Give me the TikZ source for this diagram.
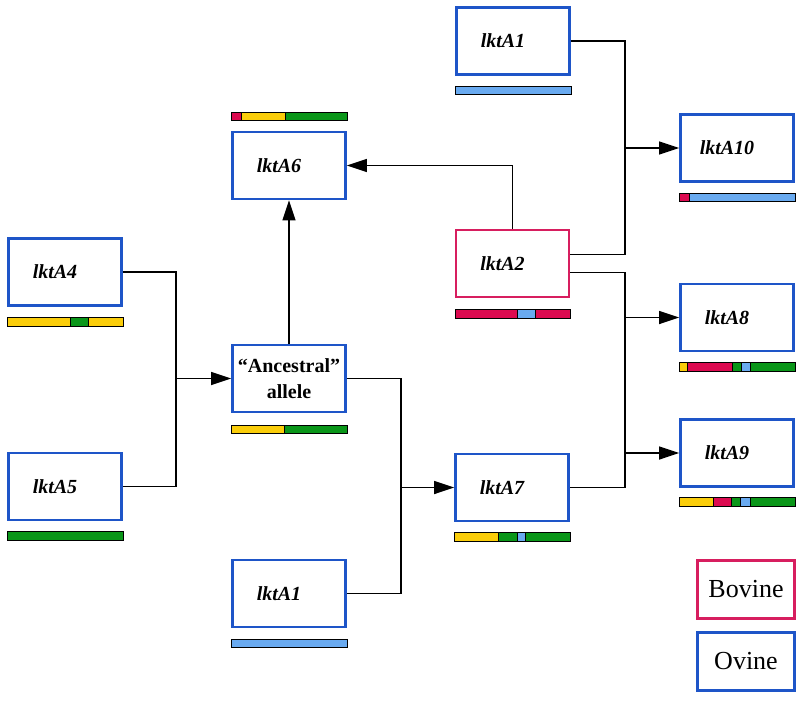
\documentclass[tikz,border=0pt]{standalone}
\usepackage{fontspec}
\setmainfont{Liberation Serif}
\usetikzlibrary{arrows.meta}
\definecolor{ovineBlue}{RGB}{30,85,200}
\definecolor{bovineRed}{RGB}{215,30,95}
\definecolor{segRed}{RGB}{220,10,80}
\definecolor{segYellow}{RGB}{250,205,10}
\definecolor{segGreen}{RGB}{10,150,25}
\definecolor{segBlue}{RGB}{105,170,240}
\tikzset{
	ovine/.style={draw=ovineBlue, line width=2.6pt, minimum width=113pt, minimum height=67pt, inner sep=0pt,
		font=\fontsize{20}{24}\selectfont\bfseries\itshape},
	bovine/.style={ovine, draw=bovineRed},
	gene/.style={execute at begin node={\hspace*{-20pt}}},
	key/.style={line width=2.6pt, minimum width=97pt, minimum height=58pt, inner sep=0pt, font=\fontsize{26}{30}\selectfont},
	link/.style={line width=1.3pt},
	arr/.style={link, -{Triangle[length=20pt, width=13pt]}},
	seg/.style={draw=black, line width=0.9pt},
}
% one allele bar: y top, y bottom, list of x1/x2/colour
\newcommand{\allele}[3]{%
	\foreach \xa/\xb/\c in {#3} \filldraw[seg, fill=\c] (\xa,#1) rectangle (\xb,#2);}

\begin{document}
\begin{tikzpicture}[x=1pt, y=-1pt]
	\useasboundingbox (0,0) rectangle (800,701);

	% boxes
	\node[ovine, gene] (a1top) at (513,41) {lktA1};
	\node[ovine, gene] (a10) at (737,148) {lktA10};
	\node[ovine, gene] (a6) at (289,165.5) {lktA6};
	\node[bovine, gene] (a2) at (512.5,263.5) {lktA2};
	\node[ovine, gene] (a4) at (65,272) {lktA4};
	\node[ovine, gene] (a8) at (737,317.5) {lktA8};
	\node[ovine, align=center, font=\fontsize{20}{26}\selectfont\bfseries] (anc) at (289,378.5) {“Ancestral”\\allele};
	\node[ovine, gene] (a9) at (737,453) {lktA9};
	\node[ovine, gene] (a5) at (65,486.5) {lktA5};
	\node[ovine, gene] (a7) at (512,487.5) {lktA7};
	\node[ovine, gene] (a1bot) at (289,593.5) {lktA1};
	\node[key, draw=bovineRed] (bov) at (746,589.5) {Bovine};
	\node[key, draw=ovineBlue] (ovi) at (746,661.5) {Ovine};

	% allele bars
	\allele{86}{94}{455/571/segBlue}
	\allele{193}{201}{679/689/segRed, 689/795/segBlue}
	\allele{112}{120}{231/241/segRed, 241/285/segYellow, 285/347/segGreen}
	\allele{309}{318}{455/517/segRed, 517/535/segBlue, 535/570/segRed}
	\allele{317}{326}{7/70/segYellow, 70/88/segGreen, 88/123/segYellow}
	\allele{362}{371}{679/687/segYellow, 687/732/segRed, 732/741/segGreen, 741/750/segBlue, 750/795/segGreen}
	\allele{425}{433}{231/284/segYellow, 284/347/segGreen}
	\allele{497}{506}{679/713/segYellow, 713/731/segRed, 731/740/segGreen, 740/750/segBlue, 750/795/segGreen}
	\allele{531}{540}{7/123/segGreen}
	\allele{532}{541}{454/498/segYellow, 498/517/segGreen, 517/525/segBlue, 525/570/segGreen}
	\allele{639}{647}{231/347/segBlue}

	% junctions
	\coordinate (j45) at (176,378.5);
	\coordinate (j110) at (625,148);
	\coordinate (j8) at (625,317.5);
	\coordinate (j9) at (625,453);
	\coordinate (j7) at (401,487.5);

	% connectors
	\draw[link] (a4.east) -| (j45) |- (a5.east);
	\draw[arr] (j45) -- (anc.west);
	\draw[arr] (anc.north) -- (a6.south);
	\draw[arr] (a2.north) |- (a6.east);
	\draw[link] (a1top.east) -| (j110) |- ([yshift=9pt]a2.east);
	\draw[arr] (j110) -- (a10.west);
	\draw[link] ([yshift=-9pt]a2.east) -| (j9) |- (a7.east);
	\draw[arr] (j8) -- (a8.west);
	\draw[arr] (j9) -- (a9.west);
	\draw[link] (anc.east) -| (j7) |- (a1bot.east);
	\draw[arr] (j7) -- (a7.west);
\end{tikzpicture}
\end{document}
